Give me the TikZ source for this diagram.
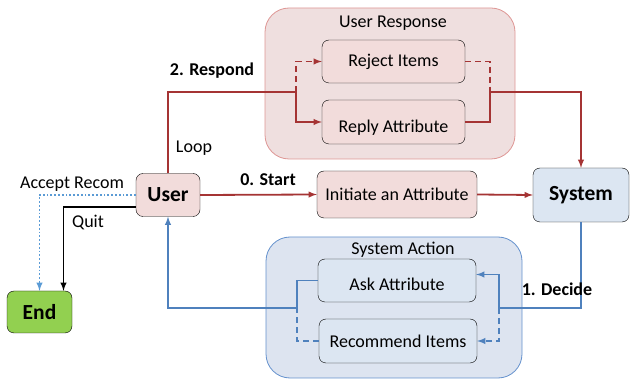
\documentclass[tikz,border=0pt]{standalone}
\usepackage{fontspec}
\setmainfont{Carlito}
\usetikzlibrary{arrows}
\definecolor{userfill}{RGB}{242,220,219}
\definecolor{sysfill}{RGB}{220,230,242}
\definecolor{endfill}{RGB}{146,208,80}
\definecolor{rspfill}{RGB}{239,223,223}
\definecolor{rspdraw}{RGB}{222,150,148}
\definecolor{actfill}{RGB}{221,228,240}
\definecolor{actdraw}{RGB}{100,145,205}
\definecolor{rline}{RGB}{165,52,52}
\definecolor{bline}{RGB}{79,129,189}
\definecolor{dline}{RGB}{91,155,213}
\tikzstyle{actor} = [rectangle, rounded corners=7pt, draw=black, font=\fontsize{21.5}{24}\selectfont\bfseries]
\tikzstyle{action} = [rectangle, rounded corners=7pt, draw=black, minimum width=143pt, minimum height=43pt, font=\fontsize{18}{20}\selectfont]
\tikzstyle{group} = [rectangle, rounded corners=24pt, line width=0.8pt]
\tikzstyle{tag} = [font=\fontsize{18}{20}\selectfont\bfseries]
\tikzstyle{note} = [font=\fontsize{18}{20}\selectfont]
\tikzstyle{longdash} = [dash pattern=on 6pt off 4pt]
\tikzstyle{redline} = [line width=1.8pt, draw=rline]
\tikzstyle{redarrow} = [line width=1.8pt, draw=rline, ->, >=latex]
\tikzstyle{blueline} = [line width=1.8pt, draw=bline]
\tikzstyle{bluearrow} = [line width=1.8pt, draw=bline, ->, >=latex]

\begin{document}
\begin{tikzpicture}[x=1pt, y=-1pt]
        \useasboundingbox (0,0) rectangle (630,382);
        % groups
        \node (rspgroup) [group, fill=rspfill, draw=rspdraw, minimum width=250pt, minimum height=151pt] at (390,83.5) {};
        \node (rsptitle) [note] at (393,23) {User Response};
        \node (actgroup) [group, fill=actfill, draw=actdraw, minimum width=256pt, minimum height=141pt] at (394,307.5) {};
        \node (acttitle) [note] at (403,250) {System Action};

        % main nodes
        \node (user) [actor, fill=userfill, minimum width=64pt, minimum height=43pt] at (168,195) {User};
        \node (sys) [actor, fill=sysfill, minimum width=96pt, minimum height=54pt] at (581,195) {System};
        \node (endn) [actor, fill=endfill, minimum width=65pt, minimum height=42pt] at (39.5,312) {End};

        \node (reject) [action, fill=userfill] at (393.5,61.5) {Reject Items};
        \node (reply) [action, fill=userfill, minimum height=44pt] at (393.5,122) {\raisebox{-6pt}[\height][\depth]{Reply Attribute}};
        \node (init) [action, fill=userfill, minimum width=160pt, minimum height=47pt] at (397,194.5) {Initiate an Attribute};
        \node (ask) [action, fill=sysfill, minimum width=158pt] at (397,280.5) {\raisebox{-4pt}[\height][\depth]{Ask Attribute}};
        \node (recom) [action, fill=sysfill, minimum width=158pt, minimum height=44pt] at (398,341) {Recommend Items};

        \coordinate (rjoin) at (296,92);
        \coordinate (rout) at (490,92);
        \coordinate (bjoin) at (499,308);
        \coordinate (ljoin) at (297,308);

        % user response
        \draw [redarrow] (user.north) |- (rjoin) |- (reply.west);
        \draw [redarrow, longdash] (rjoin) |- (reject.west);
        \draw [redline, longdash] (reject.east) -| (rout);
        \draw [redarrow] (reply.east) -| (rout) -| (sys.north);

        % start
        \draw [redarrow] (user.east) -- (init.west);
        \draw [redarrow] (init.east) -- (sys.west);

        % system action
        \draw [bluearrow] (sys.south) |- (bjoin) |- ([yshift=6pt]ask.east);
        \draw [bluearrow, longdash] (bjoin) |- (recom.east);
        \draw [bluearrow] (ask.west) -| (ljoin) -| (user.south);
        \draw [blueline, longdash] (recom.west) -| (ljoin);

        % end
        \draw [line width=1.8pt, draw=dline, dotted, ->, >=latex] (user.west) -| (endn.north);
        \draw [line width=1.8pt, ->, >=latex] ([yshift=-12pt]user.west) -| ([xshift=24pt]endn.north);

        % labels
        \node (respond) [tag] at (212,71) {2. Respond};
        \node (loop) [note] at (194,148) {Loop};
        \node (start) [tag] at (268,180) {0. Start};
        \node (decide) [tag] at (557,289) {1. Decide};
        \node (accept) [note] at (72,184) {Accept Recom};
        \node (quit) [note] at (88,223) {Quit};
\end{tikzpicture}
\end{document}
